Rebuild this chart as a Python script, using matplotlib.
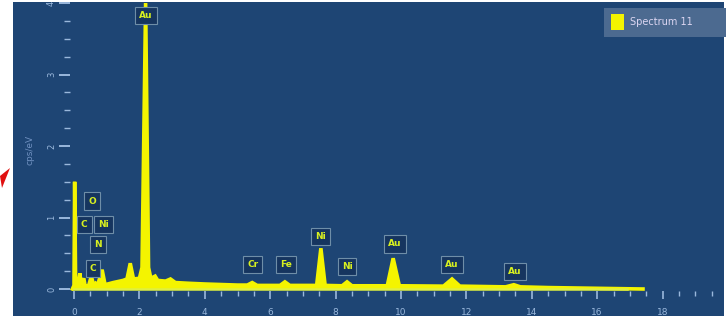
import matplotlib
matplotlib.use("Agg")
import matplotlib.pyplot as plt
from matplotlib.patches import Rectangle, Polygon
from matplotlib.ticker import MultipleLocator

# ---- data ----
energy_kev = [-0.05, 0.0, 0.02, 0.05, 0.12, 0.18, 0.22, 0.30, 0.34, 0.45, 0.53, 0.60, 0.66, 0.72,
              0.86, 0.95, 1.2, 1.5, 1.62, 1.72, 1.82, 2.0, 2.08, 2.19, 2.28, 2.35, 2.48, 2.56,
              2.8, 2.95, 3.1, 3.5, 4.0, 5.0, 5.3, 5.45, 5.6, 6.3, 6.45, 6.6, 7.42, 7.55, 7.68,
              8.2, 8.35, 8.5, 9.58, 9.76, 9.95, 11.3, 11.56, 11.8, 13.2, 13.45, 13.65, 14.5, 17.4]
counts_cps = [0.0, 0.05, 1.50, 0.06, 0.05, 0.22, 0.05, 0.15, 0.04, 0.05, 0.18, 0.05, 0.08, 0.05,
              0.27, 0.06, 0.09, 0.12, 0.14, 0.36, 0.14, 0.15, 0.30, 4.0, 0.30, 0.15, 0.18, 0.12,
              0.11, 0.14, 0.09, 0.08, 0.07, 0.055, 0.055, 0.09, 0.05, 0.05, 0.10, 0.05, 0.05, 0.57, 0.05,
              0.045, 0.10, 0.045, 0.045, 0.43, 0.045, 0.04, 0.14, 0.04, 0.03, 0.06, 0.03, 0.02, 0.0]

peak_labels = ["Au", "O", "C", "Ni", "N", "C", "Cr", "Fe", "Ni", "Ni", "Au", "Au", "Au"]
label_kev = [2.2, 0.55, 0.31, 0.89, 0.73, 0.58, 5.47, 6.48, 7.55, 8.35, 9.82, 11.56, 13.49]
label_cps = [3.83, 1.23, 0.90, 0.90, 0.62, 0.29, 0.34, 0.34, 0.74, 0.32, 0.63, 0.34, 0.25]

x_ticks = [0, 2, 4, 6, 8, 10, 12, 14, 16, 18]
y_ticks = [0, 1, 2, 3, 4]
series_name = "Spectrum 11"
y_title = "cps/eV"

# ---- layout ----
W, H = 726, 322
fig = plt.figure(figsize=(W / 100, H / 100), dpi=100)
fig.patch.set_facecolor("white")

def fx(px):
    return px / W

def fy(py):
    return 1 - py / H

panel_col = "#1e4574"
fig.patches.append(Rectangle((fx(13), fy(316)), fx(724) - fx(13), fy(2) - fy(316),
                             transform=fig.transFigure, facecolor=panel_col, edgecolor="none", zorder=-2))
# red arrow tip at left edge
fig.patches.append(Polygon([(fx(0), fy(176)), (fx(10), fy(168)), (fx(2), fy(188))],
                           closed=True, transform=fig.transFigure, facecolor="#e01010",
                           edgecolor="none", zorder=-1))

ax_l, ax_r, ax_t, ax_b = 70, 722, 3, 291
ax = fig.add_axes([fx(ax_l), fy(ax_b), fx(ax_r) - fx(ax_l), fy(ax_t) - fy(ax_b)])
ax.set_facecolor("none")
ax.set_xlim((ax_l - 74) / 32.7, (ax_r - 74) / 32.7)
ax.set_ylim((289 - ax_b) / 71.5, (289 - ax_t) / 71.5)
for s in ax.spines.values():
    s.set_visible(False)

yellow = "#f4f400"
ax.fill_between(energy_kev, counts_cps, 0, color=yellow, linewidth=0, zorder=3)
ax.plot(energy_kev, counts_cps, color=yellow, lw=2.6, zorder=4, solid_joinstyle="miter")
ax.plot([0, 16.9], [0.0, 0.0], color="#e0f040", lw=1.8, zorder=4)

tick_col = "#9ab8dc"
ax.set_xticks(x_ticks)
ax.xaxis.set_minor_locator(MultipleLocator(0.5))
ax.set_yticks(y_ticks)
ax.yaxis.set_minor_locator(MultipleLocator(0.25))
ax.tick_params(axis="x", which="major", length=6, width=1.2, color=tick_col, labelcolor=tick_col,
               labelsize=6.5, pad=6, direction="out")
ax.tick_params(axis="x", which="minor", length=3.5, width=1.0, color=tick_col, direction="out")
ax.tick_params(axis="y", which="major", length=8, width=1.4, color=tick_col, labelcolor=tick_col,
               labelsize=6, pad=2, direction="out", labelrotation=90)
ax.tick_params(axis="y", which="minor", length=4.5, width=1.0, color=tick_col, direction="out")
for lab in ax.get_yticklabels():
    lab.set_va("center")

fig.text(fx(30), fy(150), y_title, rotation=90, color="#6f90c0", fontsize=6.5,
         ha="center", va="center")

# element labels
for name, ex, ey in zip(peak_labels, label_kev, label_cps):
    ax.text(ex, ey, name, ha="center", va="center", fontsize=6.5, color="#d8f020",
            fontweight="bold", zorder=6,
            bbox=dict(boxstyle="square,pad=0.45", facecolor="#16355f", edgecolor="#6f8ea8",
                      linewidth=0.8))

# legend box
fig.patches.append(Rectangle((fx(604), fy(37)), fx(726) - fx(604), fy(8) - fy(37),
                             transform=fig.transFigure, facecolor="#4c6a90", edgecolor="none", zorder=5))
fig.patches.append(Rectangle((fx(611), fy(30)), fx(624) - fx(611), fy(14) - fy(30),
                             transform=fig.transFigure, facecolor=yellow, edgecolor="none", zorder=6))
fig.text(fx(630), fy(22), series_name, color="#dcd6f2", fontsize=7, ha="left", va="center", zorder=7)

fig.savefig("out.png", dpi=100, facecolor=fig.get_facecolor())
